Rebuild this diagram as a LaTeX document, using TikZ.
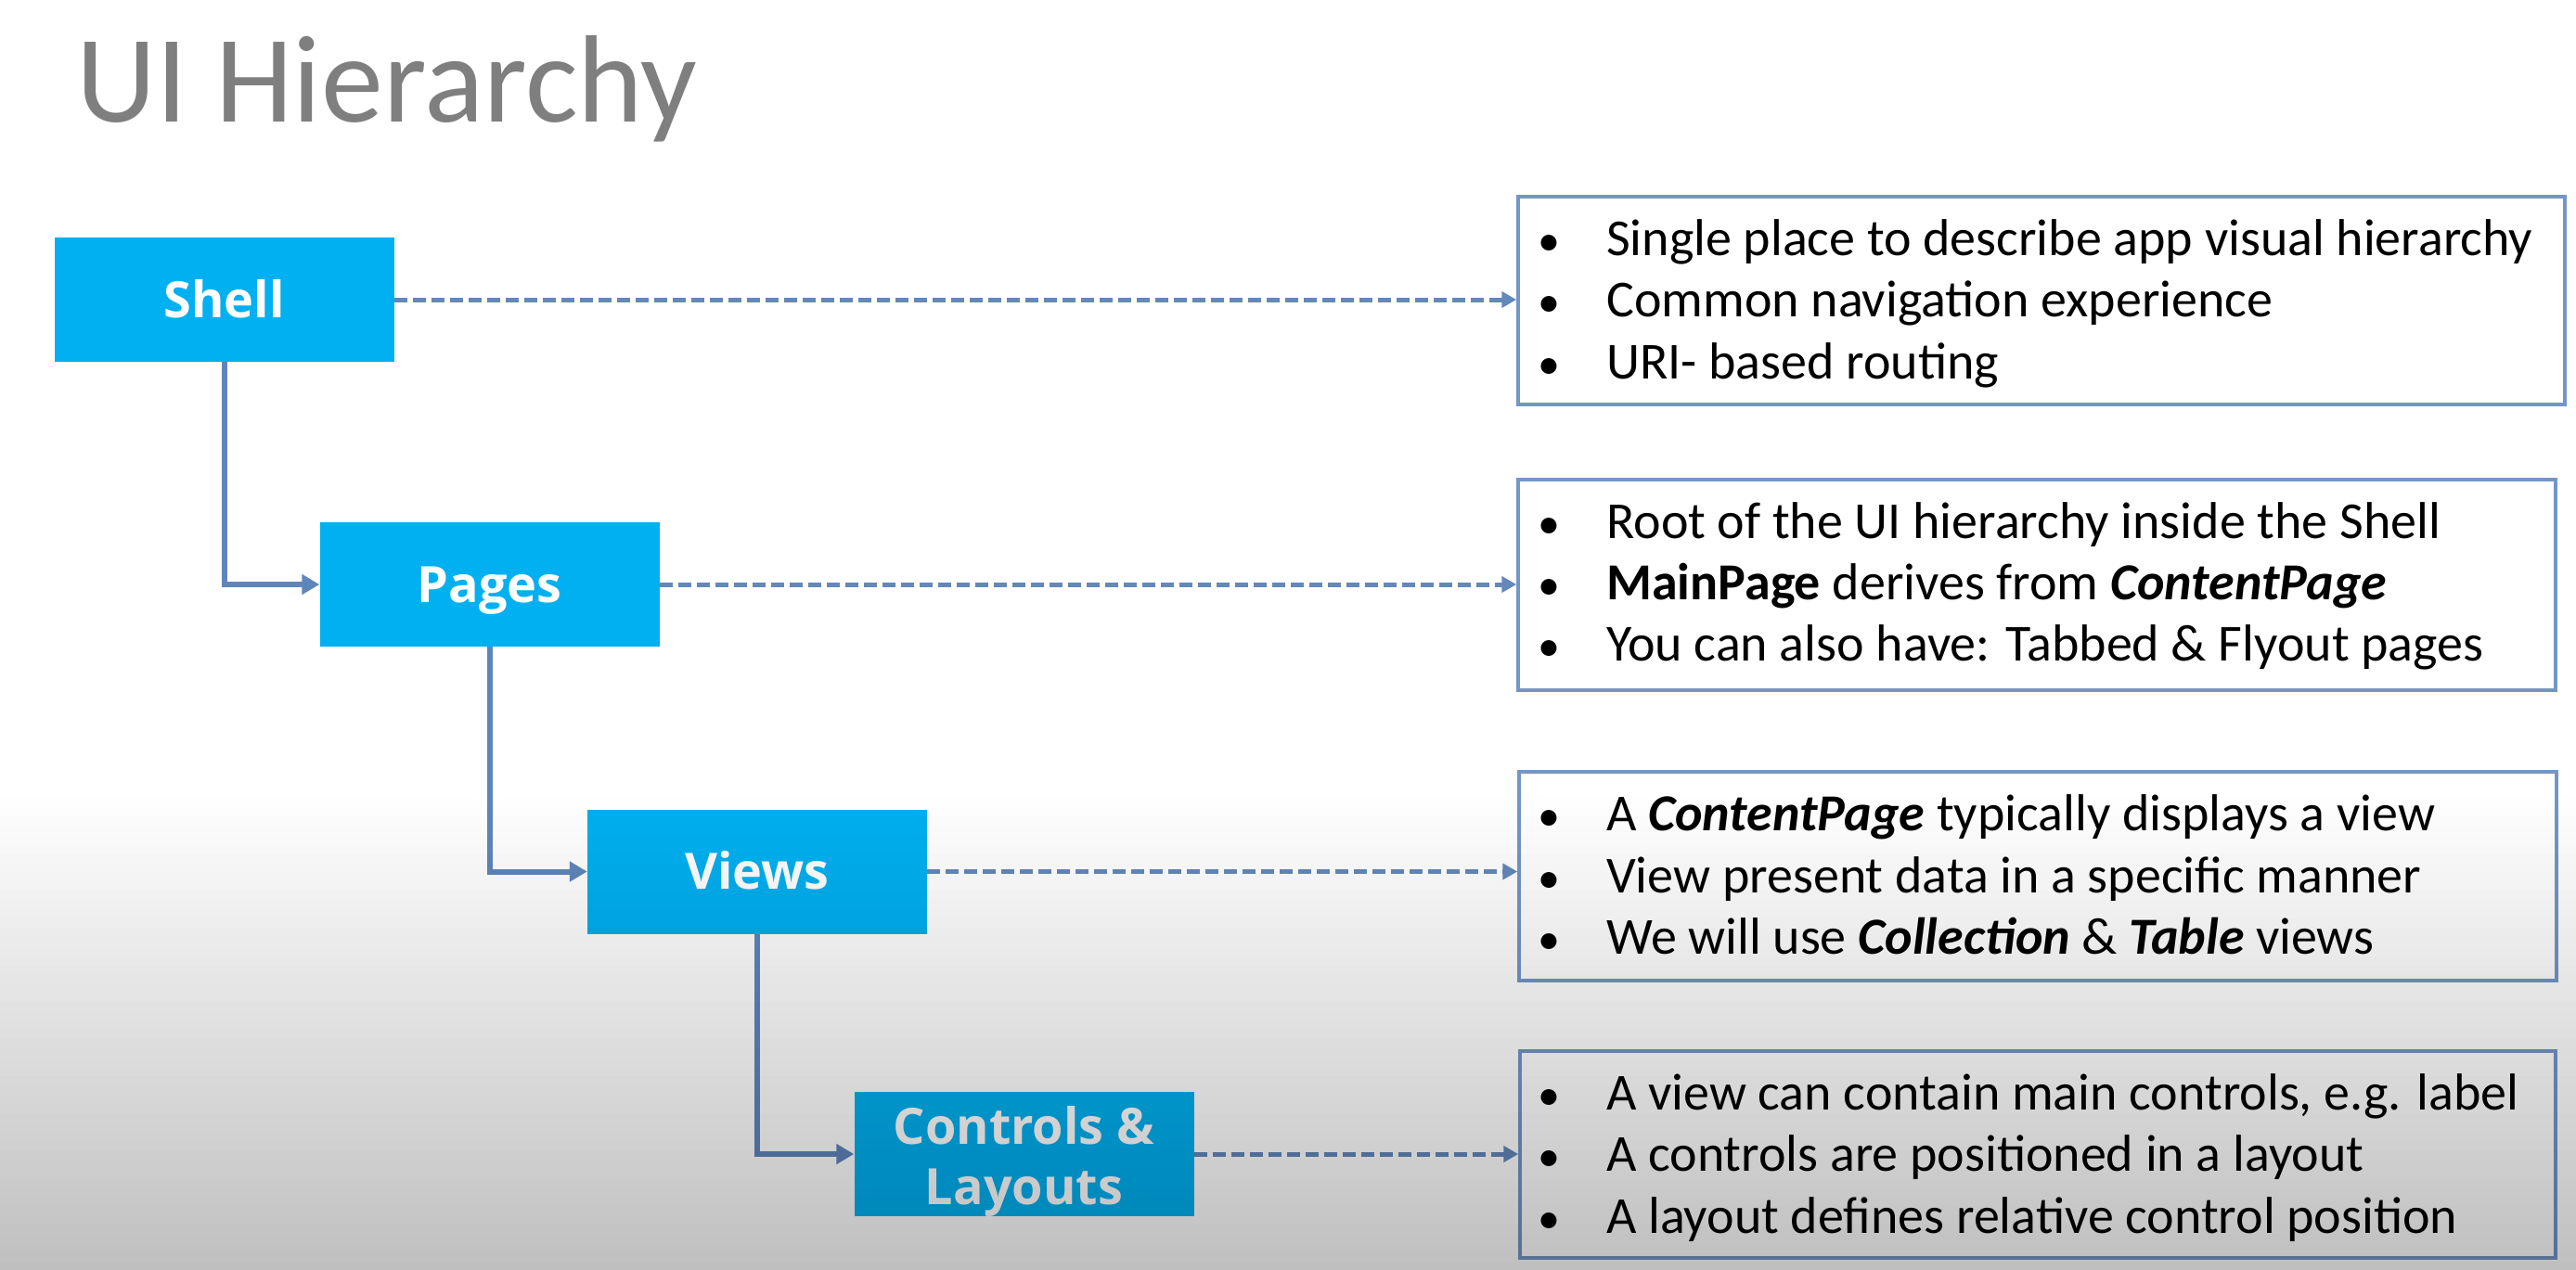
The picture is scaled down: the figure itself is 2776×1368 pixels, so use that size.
\documentclass[tikz,border=0pt]{standalone}
\usepackage{fontspec}
\setmainfont{Carlito}
\newfontfamily\boxfont{Open Sans}
\usetikzlibrary{arrows.meta}
\definecolor{cyanbox}{HTML}{00B0F0}
\definecolor{connc}{HTML}{5F86BC}
\definecolor{dashc}{HTML}{6388BA}
\definecolor{tborder}{HTML}{7396C6}
\definecolor{titlec}{HTML}{7F7F7F}
\begin{document}
\begin{tikzpicture}[x=1pt,y=-1pt,
  cbox/.style={rectangle, fill=cyanbox, minimum width=366pt, minimum height=134pt, inner sep=0pt, text=white, font=\boxfont\bfseries\fontsize{54}{65}\selectfont, align=center, text height=38.5pt, text depth=0pt},
  clabel/.style={inner sep=0pt, text=white, font=\boxfont\bfseries\fontsize{54}{65}\selectfont, align=center},
  tbox/.style={rectangle, draw=tborder, line width=3.5pt, inner sep=0pt},
  conn/.style={draw=connc, line width=6pt, -{Triangle[length=19pt,width=21pt]}},
  dconn/.style={draw=dashc, line width=5pt, dash pattern=on 14pt off 6pt, -{Triangle[length=16pt,width=17pt]}},
  bul/.style={anchor=base, inner sep=0pt, font=\fontsize{48}{60}\selectfont},
  txt/.style={anchor=base west, inner sep=0pt, font=\fontsize{56}{67}\selectfont}]
\useasboundingbox (0,0) rectangle (2776,1368);
\fill[white] (0,0) rectangle (2776,1368);

% title
\node[anchor=base west, inner sep=0pt, text=titlec, font=\fontsize{134}{160}\selectfont] (title) at (82,131) {UI Hierarchy};

% hierarchy boxes
\node[cbox] (shell) at (241.5,323) {Shell};
\node[cbox] (pages) at (527.5,630) {Pages};
\node[cbox] (views) at (816,939.5) {Views};
\node[cbox] (ctrl) at (1103.5,1244) {};
\node[clabel] (ctrltext) at (1103.5,1252) {Controls \&\\Layouts};

% text boxes
\node[tbox, minimum width=1128pt, minimum height=224pt] (t1) at (2200,324) {};
\node[tbox, minimum width=1118pt, minimum height=227pt] (t2) at (2195,630.5) {};
\node[tbox, minimum width=1118pt, minimum height=225pt] (t3) at (2196,944.5) {};
\node[tbox, minimum width=1116pt, minimum height=223pt] (t4) at (2196,1244.5) {};

% solid connectors
\draw[conn] (shell.south) |- (pages.west);
\draw[conn] (pages.south) |- (views.west);
\draw[conn] (views.south) |- (ctrl.west);

% dashed connectors
\draw[dconn] (shell.east) -- (shell.east -| t1.west);
\draw[dconn] (pages.east) -- (pages.east -| t2.west);
\draw[dconn] (views.east) -- (views.east -| t3.west);
\draw[dconn] (ctrl.east) -- (ctrl.east -| t4.west);

% box 1
\node[bul] (b11) at (1669,275) {•};
\node[txt] (l11) at (1731,275) {Single place to describe app visual hierarchy};
\node[bul] (b12) at (1669,341) {•};
\node[txt] (l12) at (1731,341) {Common navigation experience};
\node[bul] (b13) at (1669,408) {•};
\node[txt] (l13) at (1731,408) {URI- based routing};

% box 2
\node[bul] (b21) at (1669,580) {•};
\node[txt] (l21) at (1731,580) {Root of the UI hierarchy inside the Shell};
\node[bul] (b22) at (1669,646) {•};
\node[txt] (l22) at (1731,646) {\textbf{MainPage} derives from \textbf{\textit{ContentPage}}};
\node[bul] (b23) at (1669,712) {•};
\node[txt] (l23) at (1731,712) {You can also have: Tabbed \& Flyout pages};

% box 3
\node[bul] (b31) at (1669,895) {•};
\node[txt] (l31) at (1731,895) {A \textbf{\textit{ContentPage}} typically displays a view};
\node[bul] (b32) at (1669,962) {•};
\node[txt] (l32) at (1731,962) {View present data in a specific manner};
\node[bul] (b33) at (1669,1028) {•};
\node[txt] (l33) at (1731,1028) {We will use \textbf{\textit{Collection}} \& \textbf{\textit{Table}} views};

% box 4
\node[bul] (b41) at (1669,1196) {•};
\node[txt] (l41) at (1731,1196) {A view can contain main controls, e.g. label};
\node[bul] (b42) at (1669,1262) {•};
\node[txt] (l42) at (1731,1262) {A controls are positioned in a layout};
\node[bul] (b43) at (1669,1329) {•};
\node[txt] (l43) at (1731,1329) {A layout defines relative control position};

% darkening towards the bottom
\foreach \i in {1,...,51} {
  \fill[black, fill opacity=\i*0.0049] (0,850+\i*10) rectangle (2776,860+\i*10);
}
\end{tikzpicture}
\end{document}
